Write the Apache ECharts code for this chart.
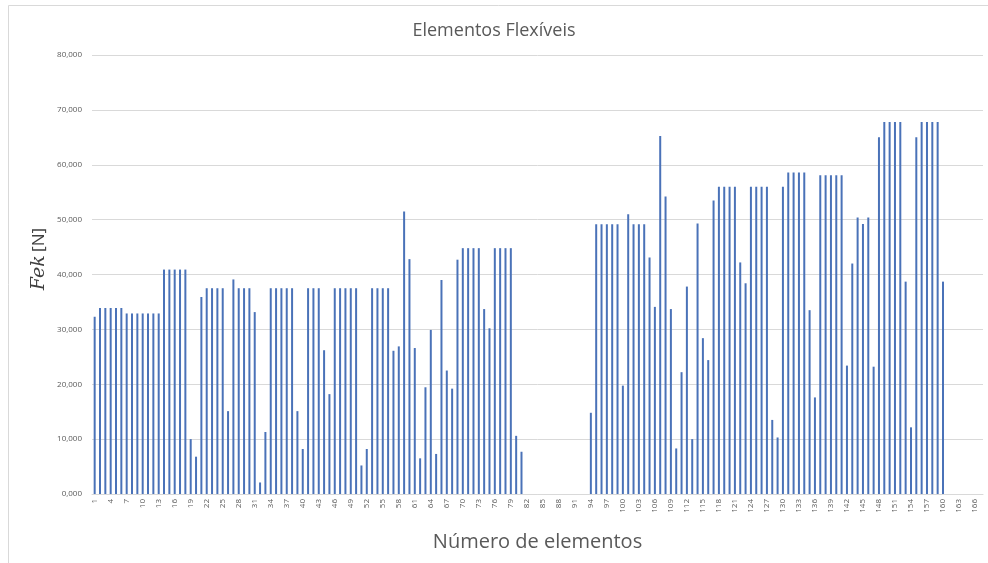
<!DOCTYPE html>
<html>
<head>
<meta charset="utf-8">
<script src="https://cdn.jsdelivr.net/npm/echarts@6/dist/echarts.min.js"></script>
<style>
html,body{margin:0;padding:0;background:#fff;}
#chart{width:988px;height:563px;}
</style>
</head>
<body>
<div id="chart"></div>
<script>
var titleText = "Elementos Flexíveis";
var xAxisTitle = "Número de elementos";
var categoryCount = 167;
var yTickLabels = ["0,000","10,000","20,000","30,000","40,000","50,000","60,000","70,000","80,000"];

var fekValues = [
  32300, 33900, 33900, 33900, 33900, 33900, 32900, 32900, 32900, 32900,
  32900, 32900, 32900, 40900, 40900, 40900, 40900, 40900, 10000, 6800,
  35900, 37500, 37500, 37500, 37500, 15100, 39100, 37500, 37500, 37500,
  33150, 2100, 11300, 37500, 37500, 37500, 37500, 37500, 15100, 8200,
  37500, 37500, 37500, 26200, 18200, 37500, 37500, 37500, 37500, 37500,
  5200, 8200, 37500, 37500, 37500, 37500, 26100, 26900, 51500, 42800,
  26600, 6500, 19450, 29900, 7300, 39000, 22500, 19200, 42700, 44800,
  44800, 44800, 44800, 33700, 30200, 44800, 44800, 44800, 44800, 10600,
  7700, 0, 0, 0, 0, 0, 0, 0, 0, 0,
  0, 0, 0, 14800, 49150, 49150, 49150, 49150, 49150, 19750,
  51000, 49150, 49150, 49150, 43100, 34100, 65250, 54200, 33700, 8300,
  22200, 37800, 10000, 49300, 28400, 24400, 53500, 56000, 56000, 56000,
  56000, 42200, 38400, 56000, 56000, 56000, 56000, 13500, 10300, 56000,
  58600, 58600, 58600, 58600, 33500, 17600, 58100, 58100, 58100, 58100,
  58100, 23400, 42000, 50400, 49200, 50400, 23200, 65000, 67800, 67800,
  67800, 67800, 38700, 12150, 65000, 67800, 67800, 67800, 67800, 38700,
  0, 0, 0, 0, 0, 0, 0
];

var categories = [];
for (var i = 1; i <= categoryCount; i++) categories.push(String(i));

var chart = echarts.init(document.getElementById('chart'));
chart.setOption({
  animation: false,
  backgroundColor: '#ffffff',
  title: {
    text: titleText,
    left: 'center',
    top: 17,
    textStyle: { fontFamily: 'Open Sans', fontWeight: 'normal', fontSize: 18, color: '#595959' }
  },
  graphic: [
    { type: 'rect', shape: { x: 8.5, y: 5.5, width: 1000, height: 600 },
      style: { fill: 'none', stroke: '#d9d9d9', lineWidth: 1 }, silent: true },
    { type: 'text', left: 30, top: 228, rotation: Math.PI / 2,
      style: { text: '{i|Fek} {n|[N]}', rich: {
        i: { fontFamily: 'DejaVu Serif', fontStyle: 'italic', fontSize: 19, fill: '#404040' },
        n: { fontFamily: 'Open Sans', fontSize: 17, fill: '#404040' } } } }
  ],
  grid: { left: 92, right: 5, top: 55, bottom: 69, containLabel: false },
  xAxis: {
    type: 'category',
    data: categories,
    name: xAxisTitle,
    nameLocation: 'middle',
    nameGap: 38,
    nameTextStyle: { fontFamily: 'Open Sans', fontSize: 20, color: '#595959' },
    axisLine: { lineStyle: { color: '#d9d9d9' } },
    axisTick: { show: false },
    axisLabel: { interval: 2, rotate: 90, fontSize: 8, color: '#595959', fontFamily: 'Open Sans', margin: 5 }
  },
  yAxis: {
    type: 'value',
    min: 0,
    max: 80000,
    interval: 10000,
    axisLine: { show: false },
    axisTick: { show: false },
    splitLine: { lineStyle: { color: '#d9d9d9' } },
    axisLabel: {
      fontSize: 8, color: '#595959', fontFamily: 'Open Sans', margin: 10,
      formatter: function (v) { return yTickLabels[Math.round(v / 10000)]; }
    }
  },
  series: [{
    type: 'bar',
    data: fekValues,
    barWidth: 2,
    itemStyle: { color: '#4a72b8' }
  }]
});
</script>
</body>
</html>
